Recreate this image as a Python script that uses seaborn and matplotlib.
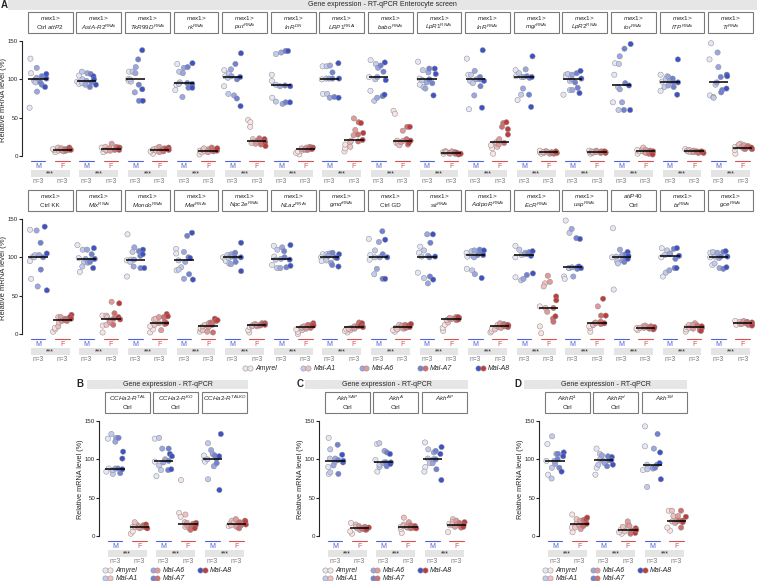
import numpy as np
import pandas as pd
import matplotlib
matplotlib.use("Agg")
import matplotlib.pyplot as plt
import seaborn as sns
from matplotlib.patches import Rectangle
from matplotlib.lines import Line2D
from matplotlib.legend_handler import HandlerTuple

sns.set_style("white")
plt.rcParams['font.family'] = ['Liberation Sans', 'DejaVu Sans']
plt.rcParams['mathtext.fontset'] = 'custom'
plt.rcParams['mathtext.rm'] = 'Liberation Sans'
plt.rcParams['mathtext.it'] = 'Liberation Sans:italic'
plt.rcParams['mathtext.bf'] = 'Liberation Sans:bold'
plt.rcParams['mathtext.default'] = 'it'

# ---------------- data ----------------
genotypes = ["Amyrel", "Mal-A1", "Mal-A6", "Mal-A7", "Mal-A8"]
sexes = ["M", "F"]
male_colors = ['#e4e7f8', '#c3caef', '#9ba6e4', '#7082d6', '#3d52c6']
female_colors = ['#fbe3e3', '#f3c0c0', '#e49a9a', '#d56d6d', '#c23b3b']

heads_A1 = [("$mex1$>", "Ctrl $attP2$"), ("$mex1$>", "$AstA$-$R2^{RNAi}$"), ("$mex1$>", "$TkR99D^{RNAi}$"),
            ("$mex1$>", "$rk^{RNAi}$"), ("$mex1$>", "$put^{RNAi}$"), ("$mex1$>", "$InR^{DN}$"),
            ("$mex1$>", "$LRP1^{RNAi}$"), ("$mex1$>", "$babo^{RNAi}$"), ("$mex1$>", "$LpR1^{RNAi}$"),
            ("$mex1$>", "$InR^{RNAi}$"), ("$mex1$>", "$mgl^{RNAi}$"), ("$mex1$>", "$LpR2^{RNAi}$"),
            ("$mex1$>", "$tor^{RNAi}$"), ("$mex1$>", "$ITP^{RNAi}$"), ("$mex1$>", "$Tl^{RNAi}$")]
heads_A2 = [("$mex1$>", "Ctrl KK"), ("$mex1$>", "$Mlx^{RNAi}$"), ("$mex1$>", "$Mondo^{RNAi}$"),
            ("$mex1$>", "$Met^{RNAi}$"), ("$mex1$>", "$Npc2e^{RNAi}$"), ("$mex1$>", "$NLaz^{RNAi}$"),
            ("$mex1$>", "$gmd^{RNAi}$"), ("$mex1$>", "Ctrl GD"), ("$mex1$>", "$sit^{RNAi}$"),
            ("$mex1$>", "$AdipoR^{RNAi}$"), ("$mex1$>", "$EcR^{RNAi}$"), ("$mex1$>", "$usp^{RNAi}$"),
            ("$attP40$", "Ctrl"), ("$mex1$>", "$bt^{RNAi}$"), ("$mex1$>", "$gce^{RNAi}$")]
heads_B = [("$CCHa2$-$R^{TAL}$", "Ctrl"), ("$CCHa2$-$R^{KO}$", "Ctrl"), ("$CCHa2$-$R^{TALKO}$",)]
heads_C = [("$Akh^{SAP}$", "Ctrl"), ("$Akh^{A}$", "Ctrl"), ("$Akh^{AP}$",)]
heads_D = [("$AkhR^{1}$", "Ctrl"), ("$AkhR^{d}$", "Ctrl"), ("$Akh^{1M}$",)]

# values per group: Amyrel x3, Mal-A1 x3, Mal-A6 x3, Mal-A7 x3, Mal-A8 x3
A1_male = [
    [127,108,63, 98,100,96, 115,84,102, 104,96,93, 107,90,101],
    [105,97,94, 110,100,95, 108,98,93, 107,96,90, 104,100,93],
    [110,100,98, 110,97,100, 116,108,83, 126,93,72, 138,87,72],
    [120,93,86, 110,96,94, 108,115,77, 116,95,89, 121,94,89],
    [112,104,91, 108,102,81, 113,104,79, 120,100,75, 134,103,65],
    [106,98,76, 133,93,71, 135,91,68, 137,92,70, 137,91,70],
    [117,100,81, 117,101,81, 118,101,76, 109,101,77, 121,101,76],
    [125,103,85, 120,100,72, 115,103,76, 118,110,78, 122,99,80],
    [123,93,101, 112,99,90, 109,96,88, 114,100,95, 114,107,79],
    [127,106,61, 106,98,95, 111,100,79, 103,91,100, 138,98,63],
    [112,104,73, 108,103,80, 113,103,88, 104,80,102, 130,103,64],
    [106,103,80, 107,98,86, 106,100,86, 108,96,89, 111,101,82],
    [121,106,70, 120,90,60, 130,87,70, 140,95,60, 146,92,60],
    [106,97,85, 104,100,90, 103,98,92, 101,96,90, 126,96,80],
    [147,126,79, 93,77,76, 135,116,96, 103,86,83, 106,104,88],
]
A1_female = [
    [5,8,9, 10,11,7, 8,10,6, 9,7,8, 11,9,8],
    [5,9,11, 7,12,8, 16,10,7, 9,12,8, 11,8,10],
    [3,6,8, 9,10,7, 12,7,5, 10,8,6, 11,8,9],
    [2,5,7, 8,6,10, 9,7,5, 11,8,6, 9,7,10],
    [47,44,38, 22,18,17, 20,16,19, 23,21,15, 22,18,13],
    [2,4,6, 7,9,10, 8,11,9, 10,12,8, 11,10,9],
    [6,10,15, 18,12,20, 49,34,27, 44,28,19, 43,30,21],
    [59,55,17, 20,16,14, 18,20,33, 38,22,15, 38,20,17],
    [3,5,6, 4,6,5, 3,4,6, 5,3,4, 4,2,3],
    [3,10,14, 12,17,18, 15,20,22, 43,38,17, 44,35,28],
    [3,5,7, 6,4,5, 4,6,3, 5,4,3, 6,4,5],
    [3,5,7, 6,4,5, 7,6,5, 4,5,6, 5,4,6],
    [3,6,8, 9,11,6, 8,5,4, 7,5,3, 6,4,2],
    [9,7,6, 8,6,5, 7,5,6, 6,5,4, 5,4,6],
    [3,8,12, 14,16,15, 12,10,14, 13,11,9, 10,9,11],
]
A2_male = [
    [136,95,72, 101,103,100, 135,103,62, 119,84,100, 140,105,57],
    [116,99,81, 110,94,88, 110,98,93, 104,96,94, 112,98,86],
    [130,96,75, 97,107,94, 113,97,88, 108,102,86, 110,104,86],
    [111,105,83, 96,87,84, 107,94,72, 128,100,78, 132,99,71],
    [100,97,95, 103,99,92, 104,101,91, 106,100,94, 119,100,82],
    [115,101,90, 110,97,86, 113,98,86, 108,100,87, 116,97,89],
    [104,100,95, 104,99,96, 105,102,93, 106,100,90, 104,99,88],
    [124,103,97, 109,100,78, 120,100,85, 134,104,72, 123,100,72],
    [114,106,80, 109,101,73, 130,102,66, 119,100,75, 130,101,71],
    [106,85,101, 83,103,108, 100,78,109, 107,103,110, 109,103,73],
    [115,100,74, 110,103,70, 106,104,72, 107,104,77, 108,102,79],
    [148,75,72, 132,86,86, 137,87,75, 125,87,85, 124,88,86],
    [138,58,100, 101,95,92, 110,103,96, 104,100,94, 107,102,98],
    [112,75,100, 109,80,103, 105,104,83, 111,98,86, 112,102,86],
    [106,100,90, 107,101,92, 106,99,86, 107,101,85, 108,101,87],
]
A2_female = [
    [3,6,8, 10,15,22, 22,18,17, 20,18,17, 25,22,20],
    [2,11,24, 24,22,12, 18,42,15, 27,20,12, 40,22,19],
    [2,6,10, 12,19,20, 14,22,5, 22,13,16, 26,23,14],
    [3,6,8, 5,10,12, 14,9,3, 2,12,15, 20,17,18],
    [2,5,9, 10,12,11, 13,10,12, 14,12,11, 14,13,12],
    [0,3,6, 5,8,9, 10,7,9, 11,12,8, 14,12,11],
    [2,4,6, 5,8,7, 9,10,7, 15,12,10, 14,11,9],
    [3,5,8, 12,8,6, 9,11,7, 12,8,10, 11,9,13],
    [4,8,12, 15,20,18, 19,20,21, 22,18,20, 21,19,22],
    [2,4,7, 6,10,12, 9,14,8, 13,11,10, 12,9,11],
    [10,1,36, 66,62,34, 76,68,29, 20,16,34, 49,44,23],
    [3,8,10, 12,14,12, 15,14,36, 13,24,16, 46,24,14],
    [5,8,7, 9,10,8, 8,11,9, 7,10,8, 6,9,7],
    [3,6,9, 10,12,8, 14,7,12, 11,9,5, 8,4,10],
    [15,17,12, 14,16,13, 15,13,17, 12,16,14, 15,13,11],
]
B_male = [
    [127,88,84, 133,81,86, 128,123,88, 128,88,82, 110,101,87],
    [127,97,78, 128,92,86, 114,100,96, 114,98,86, 107,104,87],
    [105,99,97, 121,74,100, 112,107,91, 105,95,101, 133,60,104],
]
B_female = [
    [3,6,12, 15,18,12, 13,10,11, 12,13,14, 15,11,10],
    [73,30,25, 28,18,12, 10,14,17, 16,12,8, 17,14,10],
    [15,13,17, 20,14,18, 22,16,12, 14,10,18, 20,15,19],
]
C_male = [
    [128,90,81, 113,101,83, 101,96,92, 119,99,81, 106,96,98],
    [120,99,84, 121,90,93, 111,96,95, 109,96,91, 107,96,94],
    [122,90,84, 113,101,95, 109,95,100, 111,87,100, 116,107,73],
]
C_female = [
    [3,6,17, 15,10,12, 13,11,8, 12,9,10, 11,8,9],
    [4,9,12, 24,15,13, 18,11,12, 14,10,11, 13,11,10],
    [5,14,16, 22,18,15, 20,15,12, 17,13,11, 18,14,12],
]
D_male = [
    [120,98,80, 130,89,75, 107,94,98, 107,100,89, 109,104,84],
    [114,89,80, 107,93,100, 105,98,95, 104,91,99, 103,93,99],
    [143,117,86, 64,93,87, 114,89,88, 133,89,93, 109,95,74],
]
D_female = [
    [5,11,28, 17,11,22, 14,9,20, 21,16,13, 22,24,16],
    [3,5,8, 9,12,6, 15,19,13, 3,7,5, 10,4,8],
    [7,11,33, 26,33,19, 26,17,20, 11,33,20, 25,20,18],
]

# ---------------- layout ----------------
W, H = 757, 581
fig = plt.figure(figsize=(W / 100, H / 100), dpi=100)
np.random.seed(3)

SLOT_PX = 24.3
XL = -0.66


def add_ax(left_px, y150, y0, nslots):
    k = (y0 - y150) / 150.0
    top = y150 - 2
    bottom = y0 + 4
    right = left_px + (nslots - 0.5 - XL) * SLOT_PX
    ax = fig.add_axes([left_px / W, 1 - bottom / H, (right - left_px) / W, (bottom - top) / H])
    ax.set_ylim(-4 / k, 150 + 2 / k)
    return ax, k


def draw_panel(ax, k, heads, male, female, ylab_size):
    n = len(male)
    slots = [f"{i}{s}" for i in range(n) for s in sexes]
    rows = []
    for i in range(n):
        for s, vals in (("M", male[i]), ("F", female[i])):
            for j, v in enumerate(vals):
                rows.append(dict(slot=f"{i}{s}", sex=s, genotype=genotypes[j // 3], value=v))
    df = pd.DataFrame(rows)
    for s, pal in (("M", male_colors), ("F", female_colors)):
        sns.stripplot(data=df[df.sex == s], x="slot", y="value", hue="genotype", order=slots,
                      hue_order=genotypes, palette=pal, dodge=True, jitter=0.35, size=3.8,
                      linewidth=0.35, edgecolor="#8c8c8c", legend=False, ax=ax, zorder=3)
    sns.boxplot(data=df, x="slot", y="value", order=slots, width=0.8, showbox=False,
                showcaps=False, showfliers=False, whiskerprops={"visible": False},
                medianprops={"color": "black", "linewidth": 1.1, "zorder": 4}, ax=ax)
    ax.set_xlim(XL, 2 * n - 0.5)
    ax.set_ylim(-4 / k, 150 + 2 / k)
    ax.set_yticks([0, 50, 100, 150])
    for sp in ("top", "right", "bottom"):
        ax.spines[sp].set_visible(False)
    ax.spines["left"].set_bounds(0, 150)
    ax.spines["left"].set_linewidth(0.8)
    ax.tick_params(axis="y", length=2, width=0.8, pad=0.8, labelsize=4.4, left=True)
    ax.set_xticks([])
    ax.set_xlabel("")
    ax.set_ylabel("Relative mRNA level (%)", fontsize=ylab_size, labelpad=0.8)
    ax.patch.set_alpha(0)

    below = lambda d: -d / k
    above = lambda d: 150 + d / k
    for i in range(n):
        c = 2 * i + 0.5
        ax.add_patch(Rectangle((c - 0.925, above(8)), 1.85, (28.7 - 8) / k, fill=False,
                               ec="#7a7a7a", lw=0.8, clip_on=False))
        h = heads[i]
        ax.text(c, above(23), h[0], ha="center", va="center", fontsize=4.5, clip_on=False)
        if len(h) > 1:
            ax.text(c, above(13.8), h[1], ha="center", va="center", fontsize=4.5, clip_on=False)
        for off, s, col in ((0, "M", "#5063d6"), (1, "F", "#d65252")):
            x = 2 * i + off
            ax.plot([x - 0.3, x + 0.3], [below(5), below(5)], color=col, lw=0.8, clip_on=False)
            ax.text(x, below(10), s, ha="center", va="center", fontsize=5, color=col, clip_on=False)
            ax.text(x, below(25.5), "n=3", ha="center", va="center", fontsize=4.8, color="#7a7a7a",
                    clip_on=False)
        ax.add_patch(Rectangle((c - 0.8, below(20.5)), 1.6, 6.5 / k, color="#e4e4e4", lw=0,
                               clip_on=False, zorder=0))
        ax.text(c, below(18), "***", ha="center", va="center", fontsize=5, color="#222222",
                clip_on=False)


def title_bar(x0, x1, y0, y1, text):
    fig.add_artist(Rectangle((x0 / W, 1 - y1 / H), (x1 - x0) / W, (y1 - y0) / H,
                             transform=fig.transFigure, color="#e6e6e6", lw=0, zorder=0))
    fig.text((x0 + x1) / 2 / W, 1 - (y0 + y1) / 2 / H, text, ha="center", va="center", fontsize=5)


def add_legend(x_px, y_px, ncol, colspacing):
    handles = [(Line2D([], [], ls="", marker="o", ms=3.8, mfc=mc, mec="#8c8c8c", mew=0.35),
                Line2D([], [], ls="", marker="o", ms=3.8, mfc=fc, mec="#8c8c8c", mew=0.35))
               for mc, fc in zip(male_colors, female_colors)]
    fig.legend(handles, genotypes, ncol=ncol, loc="center left",
               bbox_to_anchor=(x_px / W, 1 - y_px / H), frameon=False,
               prop={"style": "italic", "size": 5},
               handler_map={tuple: HandlerTuple(ndivide=None, pad=0)},
               handlelength=1.4, handletextpad=0.4, columnspacing=colspacing,
               labelspacing=0.15, borderpad=0, borderaxespad=0)


# Panel A
title_bar(8, 757, 0, 10, "Gene expression - RT-qPCR Enterocyte screen")
fig.text(1 / W, 1 - 5 / H, "A", fontsize=7, fontweight="bold", va="center")
ax1, k1 = add_ax(22, 41, 156, 30)
draw_panel(ax1, k1, heads_A1, A1_male, A1_female, 5.5)
ax2, k2 = add_ax(22, 219, 334, 30)
draw_panel(ax2, k2, heads_A2, A2_male, A2_female, 5.5)
add_legend(243, 369, 5, 3.4)

# Panels B, C, D
for (lab, lx, bx0, bx1, axl, heads, m, f) in (
        ("B", 80, 87, 248, 99, heads_B, B_male, B_female),
        ("C", 300, 305, 468, 319, heads_C, C_male, C_female),
        ("D", 518, 524, 687, 539, heads_D, D_male, D_female)):
    title_bar(bx0, bx1, 380, 389, "Gene expression - RT-qPCR")
    fig.text(lx / W, 1 - 384 / H, lab, fontsize=7, fontweight="bold", va="center", ha="center")
    ax, k = add_ax(axl, 421, 536, 6)
    draw_panel(ax, k, heads, m, f, 5.2)
    add_legend(axl + 4, 574.5, 3, 1.8)

fig.savefig("out.png", dpi=100)
